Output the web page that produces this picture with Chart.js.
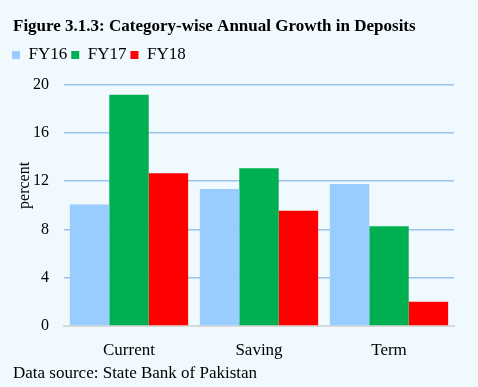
<!DOCTYPE html>
<html>
<head>
<meta charset="utf-8">
<script src="https://cdn.jsdelivr.net/npm/chart.js@4/dist/chart.umd.min.js"></script>
<style>
  html, body { margin: 0; padding: 0; background: #eff9fe; }
  #wrap { width: 478px; height: 387px; }
</style>
</head>
<body>
<div id="wrap"><canvas id="depositChart" width="478" height="387"></canvas></div>
<script>
const categories = ['Current', 'Saving', 'Term'];
const fy16 = [10.05, 11.35, 11.75];
const fy17 = [19.15, 13.05, 8.25];
const fy18 = [12.65, 9.55, 2.0];
const yTicks = [0, 4, 8, 12, 16, 20];

const serif = "'Liberation Serif', 'Times New Roman', serif";

// extra room under the legend, like the original
const legendGap = {
    id: 'legendGap',
    beforeInit(chart) {
        const fit = chart.legend.fit;
        chart.legend.fit = function () {
            fit.bind(chart.legend)();
            this.height += 11;
        };
    }
};

// title and source line start a bit further right than the legend
const textIndent = {
    id: 'textIndent',
    afterLayout(chart) {
        chart.boxes.forEach(b => {
            if (b !== chart.legend && b.options && typeof b.options.text === 'string') {
                b.left += 5;
                b.right += 5;
            }
        });
    }
};

// y axis title sits above the middle in the original
const yTitle = {
    id: 'yTitle',
    afterDraw(chart) {
        const c = chart.ctx;
        const area = chart.chartArea;
        c.save();
        c.translate(25, area.top + 101);
        c.rotate(-Math.PI / 2);
        c.font = '16px ' + serif;
        c.fillStyle = '#000';
        c.textAlign = 'center';
        c.textBaseline = 'middle';
        c.fillText('percent', 0, 0);
        c.restore();
    }
};

const ctx = document.getElementById('depositChart').getContext('2d');
const depositChart = new Chart(ctx, {
    type: 'bar',
    data: {
        labels: categories,
        datasets: [
            { label: 'FY16', data: fy16, backgroundColor: '#99ccff' },
            { label: 'FY17', data: fy17, backgroundColor: '#00b050' },
            { label: 'FY18', data: fy18, backgroundColor: '#ff0000' }
        ]
    },
    plugins: [legendGap, textIndent, yTitle],
    options: {
        responsive: false,
        animation: false,
        layout: { padding: { left: 8, right: 24, top: 6, bottom: 0 } },
        datasets: {
            bar: { categoryPercentage: 0.91, barPercentage: 1.0, borderWidth: 0 }
        },
        plugins: {
            title: {
                display: true,
                text: 'Figure 3.1.3: Category-wise Annual Growth in Deposits',
                align: 'start',
                color: '#000',
                font: { family: serif, size: 17, weight: 'bold' },
                padding: { top: 10, bottom: 6 }
            },
            legend: {
                position: 'top',
                align: 'start',
                labels: {
                    boxWidth: 8,
                    boxHeight: 8,
                    padding: 4,
                    color: '#000',
                    font: { family: serif, size: 17 }
                }
            },
            subtitle: {
                display: true,
                position: 'bottom',
                align: 'start',
                text: 'Data source: State Bank of Pakistan',
                color: '#000',
                font: { family: serif, size: 17, lineHeight: 1 },
                padding: { top: 0, bottom: 5 }
            },
            tooltip: { enabled: false }
        },
        scales: {
            x: {
                grid: { display: false },
                border: { color: '#d9d9d9', width: 2 },
                ticks: { color: '#000', font: { family: serif, size: 17, lineHeight: 1 }, padding: 8 },
                afterFit: axis => { axis.height = 39; }
            },
            y: {
                min: 0,
                max: 20,
                afterBuildTicks: axis => { axis.ticks = yTicks.map(v => ({ value: v })); },
                afterFit: axis => { axis.width = 56; },
                grid: { color: '#9dc3e6', lineWidth: 1.5, drawTicks: false },
                border: { display: false },
                ticks: { color: '#000', font: { family: serif, size: 16 }, padding: 15 }
            }
        }
    }
});
</script>
</body>
</html>
